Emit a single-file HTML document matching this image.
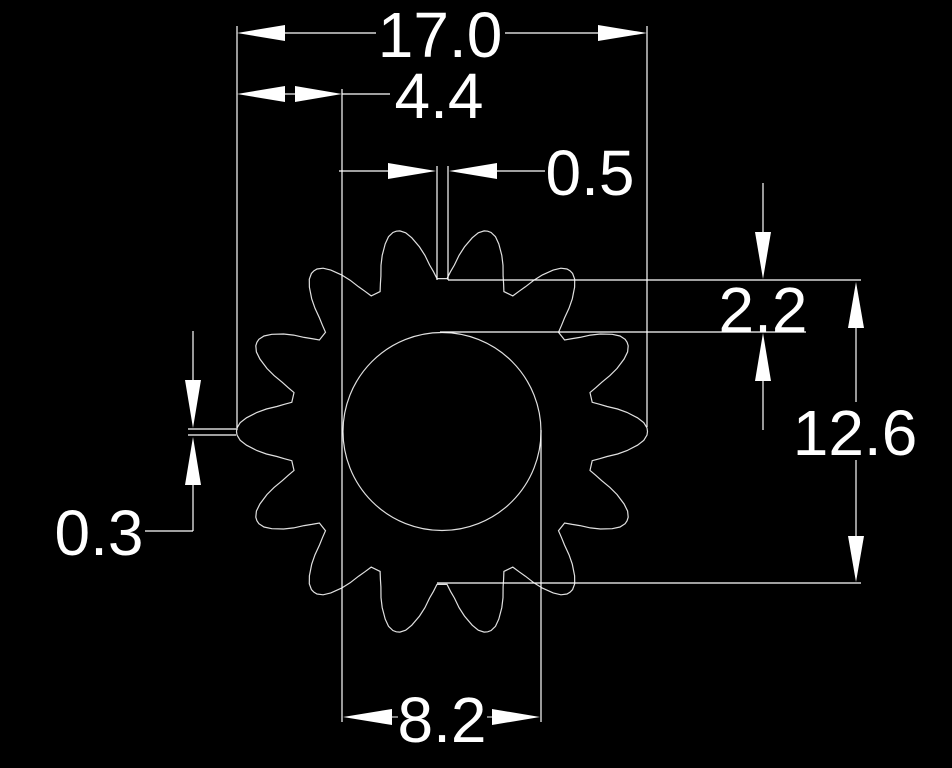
<!DOCTYPE html>
<html><head><meta charset="utf-8"><style>
html,body{margin:0;padding:0;background:#000;}
svg{display:block;}
text{font-family:"Liberation Sans",sans-serif;font-size:64px;fill:#fff;}
</style></head><body>
<svg id="s" width="952" height="768" viewBox="0 0 952 768" xmlns="http://www.w3.org/2000/svg">
<rect width="952" height="768" fill="#000"/>
<g stroke="#fff" stroke-width="1.2" fill="none">
<path id="gear" stroke="#e0e0e0" d=""/>
<circle cx="442" cy="431.5" r="99" stroke="#e0e0e0"/>
<!-- extension lines -->
<line x1="237" y1="26" x2="237" y2="430"/>
<line x1="647" y1="26" x2="647" y2="427"/>
<line x1="342" y1="89" x2="342" y2="722"/>
<line x1="541" y1="430" x2="541" y2="722"/>
<line x1="437" y1="166" x2="437" y2="280"/>
<line x1="448" y1="166" x2="448" y2="280"/>
<line x1="448" y1="280" x2="861" y2="280"/>
<line x1="440" y1="332" x2="806" y2="332"/>
<line x1="437" y1="583" x2="861" y2="583"/>
<line x1="188" y1="429" x2="236" y2="429"/>
<line x1="188" y1="435" x2="236" y2="435"/>
<!-- dim lines -->
<line x1="285" y1="33" x2="376" y2="33"/>
<line x1="505" y1="33" x2="598" y2="33"/>
<line x1="285" y1="94" x2="295" y2="94"/>
<line x1="342" y1="94" x2="390" y2="94"/>
<line x1="339" y1="171" x2="388" y2="171"/>
<line x1="497" y1="171" x2="545" y2="171"/>
<line x1="763" y1="183" x2="763" y2="232"/>
<line x1="763" y1="381" x2="763" y2="430"/>
<line x1="856" y1="328" x2="856" y2="402"/>
<line x1="856" y1="460" x2="856" y2="536"/>
<line x1="193" y1="331" x2="193" y2="380"/>
<line x1="193" y1="485" x2="193" y2="531"/>
<line x1="193" y1="531" x2="145" y2="531"/>
</g>
<g fill="#fff">
<polygon points="237,33 285,25 285,41"/>
<polygon points="647,33 598,25 598,41"/>
<polygon points="237,94 285,86 285,102"/>
<polygon points="342,94 295,86 295,102"/>
<polygon points="436,171 388,163 388,179"/>
<polygon points="449,171 497,163 497,179"/>
<polygon points="763,279 755,232 771,232"/>
<polygon points="763,333 755,381 771,381"/>
<polygon points="856,282 848,328 864,328"/>
<polygon points="856,582 848,536 864,536"/>
<polygon points="193,428 185,380 201,380"/>
<polygon points="193,437 185,485 201,485"/>
<polygon points="343,717 392,709 392,725"/>
<polygon points="540,717 492,709 492,725"/>
</g>
<line x1="392" y1="717" x2="398" y2="717" stroke="#fff"/>
<line x1="487" y1="717" x2="492" y2="717" stroke="#fff"/>
<text x="440" y="57" text-anchor="middle">17.0</text>
<text x="439" y="118" text-anchor="middle">4.4</text>
<text x="590" y="195" text-anchor="middle">0.5</text>
<text x="763" y="332" text-anchor="middle">2.2</text>
<text x="855" y="455" text-anchor="middle">12.6</text>
<text x="99" y="555" text-anchor="middle">0.3</text>
<text x="442" y="742" text-anchor="middle">8.2</text>
</svg>
<script>
(function(){
var cx=442,cy=431.5;
var prof=[[153,11],[160,9.8],[167,8.6],[177,7.3],[186,5.9],[196,4.0],[202,2.5],[205,1.0],[205.5,0]];
var pts=[];
for(var k=0;k<14;k++){
 var c=k*360/14;
 for(var i=0;i<prof.length;i++){pts.push([prof[i][0],c-prof[i][1]]);}
 for(var i=prof.length-2;i>=0;i--){pts.push([prof[i][0],c+prof[i][1]]);}
}
var d="";
for(var i=0;i<pts.length;i++){
 var a=pts[i][1]*Math.PI/180,r=pts[i][0];
 var x=cx+r*Math.cos(a),y=cy-r*Math.sin(a);
 d+=(i?"L":"M")+x.toFixed(1)+" "+y.toFixed(1);
}
d+="Z";
document.getElementById("gear").setAttribute("d",d);
})();
</script>
</body></html>
